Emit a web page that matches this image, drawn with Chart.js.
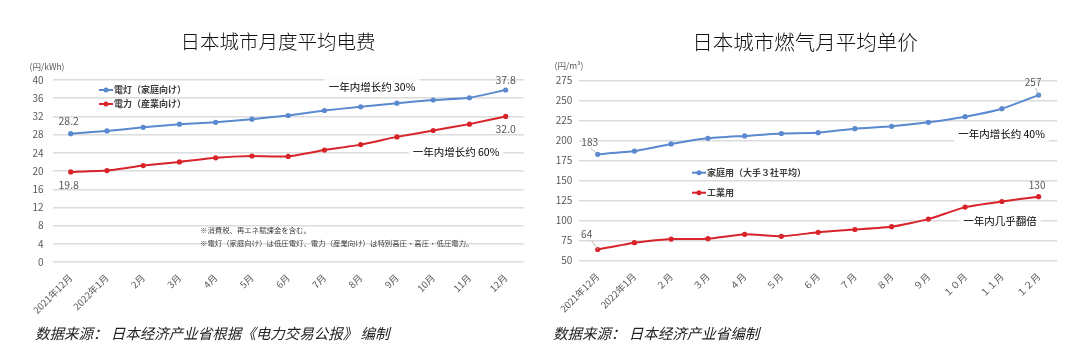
<!DOCTYPE html>
<html><head><meta charset="utf-8">
<script src="https://cdn.jsdelivr.net/npm/chart.js@4.4.1/dist/chart.umd.min.js"></script>
<style>
html,body{margin:0;padding:0;background:#fff;width:1080px;height:355px;overflow:hidden}
.panel{position:absolute;top:0;width:540px;height:355px}
.src{position:absolute;top:323px;font-family:"Noto Sans CJK SC";font-style:italic;font-size:14.5px;color:#222;white-space:nowrap;line-height:20px}
</style></head><body>
<div class="panel" style="left:0"><canvas id="c1" width="540" height="355"></canvas></div>
<div class="panel" style="left:540px"><canvas id="c2" width="540" height="355"></canvas></div>
<div class="src" style="left:35px">数据来源： 日本经济产业省根据《电力交易公报》 编制</div>
<div class="src" style="left:553px">数据来源： 日本经济产业省编制</div>
<script>
// ---------- data ----------
const elecCategories = ['2021年12月','2022年1月','2月','3月','4月','5月','6月','7月','8月','9月','10月','11月','12月'];
const elecHousehold  = [28.2,28.8,29.6,30.3,30.7,31.4,32.2,33.3,34.1,34.9,35.6,36.1,37.8];
const elecIndustrial = [19.8,20.1,21.2,22.0,22.9,23.3,23.2,24.6,25.8,27.5,28.9,30.3,32.0];
const elecSeriesNames = ['電灯（家庭向け）','電力（産業向け）'];
const elecTicks = [0,40,4]; // min, max, step

const gasCategories = ['2021年12月','2022年1月','２月','３月','４月','５月','６月','７月','８月','９月','１０月','１１月','１２月'];
const gasHousehold  = [183,187,196,203,206,209,210,215,218,223,230,240,257];
const gasIndustrial = [64,72.5,77,77.5,83,80.5,85.5,89,92.5,102,117,124,130];
const gasSeriesNames = ['家庭用（大手３社平均）','工業用'];
const gasTicks = [50,275,25];

const BLUE = '#5a89cf', RED = '#d8232a', GRID = '#dcdcdc', TICK = '#595959';
const FONT = '"Noto Sans CJK SC", "Noto Sans", sans-serif';

function txt(ctx, s, x, y, size, color, align, weight, bg) {
  ctx.save();
  ctx.font = (weight || 'normal') + ' ' + size + 'px ' + FONT;
  ctx.textAlign = align || 'center';
  ctx.textBaseline = 'middle';
  if (bg) {
    const w = ctx.measureText(s).width;
    let x0 = ctx.textAlign === 'center' ? x - w/2 : (ctx.textAlign === 'right' ? x - w : x);
    ctx.fillStyle = '#fff';
    ctx.fillRect(x0 - 4, y - size*0.75, w + 8, size*1.5);
  }
  ctx.fillStyle = color;
  ctx.fillText(s, x, y);
  ctx.restore();
}
function pt(chart, di, i) { return chart.getDatasetMeta(di).data[i]; }
function legendItem(ctx, x, y, color, label) {
  ctx.save();
  ctx.strokeStyle = color; ctx.lineWidth = 2;
  ctx.beginPath(); ctx.moveTo(x, y); ctx.lineTo(x + 14, y); ctx.stroke();
  ctx.fillStyle = color; ctx.beginPath(); ctx.arc(x + 7, y, 2.5, 0, Math.PI*2); ctx.fill();
  ctx.restore();
  txt(ctx, label, x + 15, y, 9, '#404040', 'left', 'bold');
}
function leader(ctx, x1, y1, x2, y2) {
  ctx.save(); ctx.strokeStyle = '#a6a6a6'; ctx.lineWidth = 0.8;
  ctx.beginPath(); ctx.moveTo(x1, y1); ctx.lineTo(x2, y2); ctx.stroke(); ctx.restore();
}

const decoPlugin = {
  id: 'deco',
  beforeDatasetsDraw(chart, args, opts) { if (opts.under) opts.under(chart, chart.ctx); },
  afterDraw(chart, args, opts) { if (opts.over) opts.over(chart, chart.ctx); }
};

function build(id, cats, s1, s2, names, ticks, geom, deco) {
  const ds = (data, color, name) => ({
    label: name, data, borderColor: color, backgroundColor: color,
    borderWidth: 2, pointRadius: 2.6, pointHoverRadius: 2.6, tension: 0.15,
    pointBorderWidth: 0
  });
  return new Chart(document.getElementById(id), {
    type: 'line',
    data: { labels: cats, datasets: [ds(s1, BLUE, names[0]), ds(s2, RED, names[1])] },
    options: {
      responsive: false, animation: false, devicePixelRatio: 1,
      layout: { padding: { left: 0, right: geom.right, top: geom.top, bottom: geom.bottom } },
      plugins: { legend: { display: false }, tooltip: { enabled: false }, deco },
      scales: {
        x: {
          offset: true,
          grid: { display: false },
          border: { display: false },
          ticks: { autoSkip: false, minRotation: 45, maxRotation: 45, color: TICK, padding: 2,
                   font: { family: FONT, size: 9.5 } },
          afterFit(s) { s.height = 60; }
        },
        y: {
          min: ticks[0], max: ticks[1],
          grid: { color: GRID, lineWidth: 1.4, drawTicks: false },
          border: { display: false },
          ticks: { stepSize: ticks[2], color: TICK, padding: geom.tickPad, font: { family: FONT, size: 10 } },
          afterFit(s) { s.width = geom.left; }
        }
      }
    },
    plugins: [decoPlugin]
  });
}

build('c1', elecCategories, elecHousehold, elecIndustrial, elecSeriesNames, elecTicks,
  { left: 52.6, right: 16.2, top: 80, bottom: 33, tickPad: 9 },
  {
    under(chart, ctx) {
      txt(ctx, '一年内增长约 30%', 372, 87, 10.5, '#000', 'center', 'normal', true);
      txt(ctx, '一年内增长约 60%', 456, 152, 10.5, '#000', 'center', 'normal', true);
      txt(ctx, '※消費税、再エネ賦課金を含む。', 200, 230, 7.4, '#404040', 'left');
      txt(ctx, '※電灯（家庭向け）は低圧電灯、電力（産業向け）は特別高圧・高圧・低圧電力。', 200, 243, 7.4, '#404040', 'left');
    },
    over(chart, ctx) {
      txt(ctx, '日本城市月度平均电费', 278, 42, 19.5, '#111', 'center', '300');
      txt(ctx, '(円/kWh)', 47, 67, 8.5, TICK, 'center');
      legendItem(ctx, 99, 90, BLUE, elecSeriesNames[0]);
      legendItem(ctx, 99, 104, RED, elecSeriesNames[1]);
      const n = elecHousehold.length - 1;
      let p = pt(chart, 0, 0); txt(ctx, elecHousehold[0].toFixed(1), p.x - 2, p.y - 12.5, 10.5, TICK);
      p = pt(chart, 1, 0); txt(ctx, elecIndustrial[0].toFixed(1), p.x - 2, p.y + 13.5, 10.5, TICK);
      p = pt(chart, 0, n); txt(ctx, elecHousehold[n].toFixed(1), p.x, p.y - 10, 10.5, TICK);
      p = pt(chart, 1, n); txt(ctx, elecIndustrial[n].toFixed(1), p.x, p.y + 13, 10.5, TICK);
    }
  });

build('c2', gasCategories, gasHousehold, gasIndustrial, gasSeriesNames, gasTicks,
  { left: 39.3, right: 23, top: 80.7, bottom: 34.3, tickPad: 7 },
  {
    under(chart, ctx) {
      txt(ctx, '一年内增长约 40%', 461.5, 134, 10.5, '#000', 'center', 'normal', true);
      txt(ctx, '一年内几乎翻倍', 460, 220.7, 10.5, '#000', 'center', 'normal', true);
    },
    over(chart, ctx) {
      txt(ctx, '日本城市燃气月平均单价', 265, 42, 20.5, '#111', 'center', '300');
      txt(ctx, '(円/m³)', 29, 66, 8.5, TICK, 'center');
      legendItem(ctx, 152, 172.7, BLUE, gasSeriesNames[0]);
      legendItem(ctx, 152, 192.7, RED, gasSeriesNames[1]);
      const n = gasHousehold.length - 1;
      let p = pt(chart, 0, 0);
      leader(ctx, p.x - 7, p.y - 6, p.x, p.y);
      txt(ctx, String(gasHousehold[0]), p.x - 8, p.y - 12.5, 10, TICK);
      p = pt(chart, 1, 0);
      leader(ctx, p.x - 6, p.y - 9, p.x, p.y);
      txt(ctx, String(gasIndustrial[0]), p.x - 11, p.y - 15.5, 10, TICK);
      p = pt(chart, 0, n);
      leader(ctx, p.x - 3, p.y - 7, p.x, p.y);
      txt(ctx, String(gasHousehold[n]), p.x - 5.5, p.y - 12.5, 10, TICK);
      p = pt(chart, 1, n);
      txt(ctx, String(gasIndustrial[n]), p.x - 1.5, p.y - 11, 10, TICK);
    }
  });
</script>
</body></html>
